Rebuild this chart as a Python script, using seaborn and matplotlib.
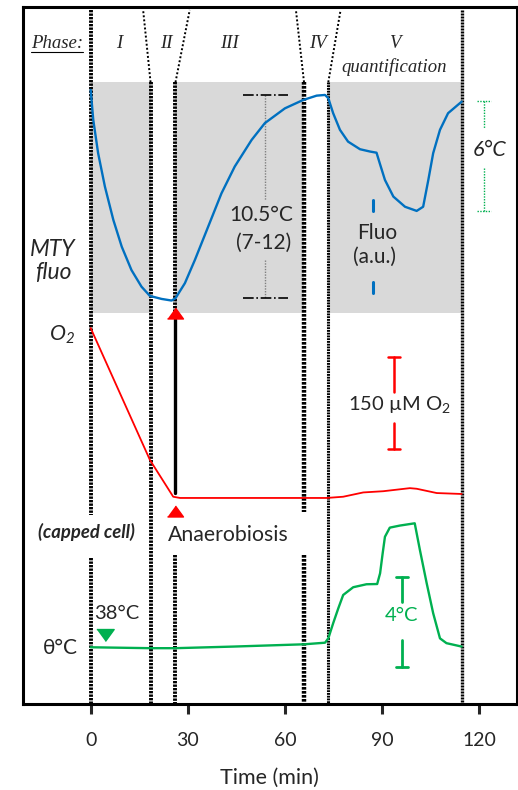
import numpy as np
import pandas as pd
import matplotlib
matplotlib.use("Agg")
import matplotlib.pyplot as plt
import seaborn as sns

# recordings (time in min)
fluo_t = [0, 0.8, 2.3, 4.4, 7.0, 9.6, 12.6, 15.7, 18.3, 21.9, 25.0, 26.2, 29.1, 32.2, 36.3,
          40.4, 44.5, 49.7, 53.8, 60.0, 65.6, 69.8, 72.4, 73.4, 74.9, 77.0, 79.5, 83.2, 86.3,
          88.3, 89.3, 90.9, 93.5, 97.1, 100.7, 102.7, 104.3, 105.8, 107.9, 110.4, 114.6]
fluo = [96.7, 83.7, 69.3, 54.8, 40.4, 28.8, 18.7, 11.5, 7.5, 6.2, 5.5, 6.5, 13.0, 23.1, 37.5,
        51.9, 63.5, 75.0, 82.3, 88.7, 92.3, 94.2, 94.5, 93.1, 86.6, 79.4, 74.3, 71.0, 70.0,
        69.5, 64.9, 57.7, 50.5, 46.1, 44.3, 46.1, 57.7, 69.3, 79.4, 86.6, 91.6]  # a.u.

o2_t = [0, 18.3, 25.5, 27.6, 45.0, 64.6, 72.9, 78.0, 84.2, 90.4, 98.6, 100.7, 106.9, 114.6]
o2 = [277, 62, 2, 0, 0, 0, 0, 2, 9, 11, 16, 15, 8, 6.5]  # uM

temp_t = [0, 18.3, 26.2, 44.0, 65.9, 72.4, 73.4, 74.9, 76.5, 78.0, 81.1, 85.2, 88.5, 89.4,
          90.2, 90.9, 92.4, 95.5, 100.1, 101.7, 103.8, 105.8, 107.9, 109.9, 114.6]
temp = [38.0, 37.96, 37.96, 38.03, 38.13, 38.2, 38.39, 39.05, 39.71, 40.29, 40.63, 40.76,
        40.77, 41.24, 42.12, 42.84, 43.24, 43.33, 43.43, 42.26, 40.8, 39.49, 38.39, 38.18, 38.03]  # degC

phase_edges = [0, 18.5, 26.2, 65.9, 73.4, 114.6]
phase_names = ["I", "II", "III", "IV", "V"]
anaerobiosis_t = 26.2
xticks = [0, 30, 60, 90, 120]

BLUE = "#0070C0"
RED = "#FF0000"
GREEN = "#00B050"
GREY = "#D9D9D9"

# vertical layout of the three stacked traces
def y_fluo(v):
    return 390.7 + 2.31 * np.asarray(v, dtype=float)

def y_o2(v):
    return 206.0 + 0.6133 * np.asarray(v, dtype=float)

def y_temp(v):
    return 56.7 + 22.83 * (np.asarray(v, dtype=float) - 38)

sns.set_style("white")
plt.rcParams['font.family'] = ['Lato', 'DejaVu Sans']
plt.rcParams['mathtext.fontset'] = 'custom'
plt.rcParams['mathtext.rm'] = 'Lato'
plt.rcParams['mathtext.it'] = 'Lato:italic'

fig = plt.figure(figsize=(5.18, 7.90), dpi=100)
ax = fig.add_axes([0.0438, 0.1089, 0.9537, 0.8827])
ax.set_xlim(-21.0, 131.6)
ax.set_ylim(0, 697.3)

top_box, bot_box = 621.7, 390.7

# grey boxes for phases I, III, V
for i in (0, 2, 4):
    ax.fill_between([phase_edges[i], phase_edges[i + 1]], bot_box, top_box, color=GREY, lw=0, zorder=0)

dots = (0, (0.6, 0.3))
vlw = 2.8
# vertical phase limits
ax.plot([0, 0], [694, 189], color="black", lw=vlw, ls=dots, zorder=2)
ax.plot([0, 0], [146, 0], color="black", lw=vlw, ls=dots, zorder=2)
ax.plot([phase_edges[1]] * 2, [top_box, 0], color="black", lw=vlw, ls=dots, zorder=2)
ax.plot([phase_edges[2]] * 2, [top_box, bot_box], color="black", lw=vlw, ls=dots, zorder=2)
ax.plot([phase_edges[2]] * 2, [149, 0], color="black", lw=vlw, ls=dots, zorder=2)
ax.plot([phase_edges[3]] * 2, [top_box, 192], color="black", lw=3.2, ls=dots, zorder=2)
ax.plot([phase_edges[3]] * 2, [149, 0], color="black", lw=3.2, ls=dots, zorder=2)
ax.plot([phase_edges[4]] * 2, [top_box, 0], color="black", lw=2.2, ls=dots, zorder=2)
ax.plot([phase_edges[5]] * 2, [694, 0], color="black", lw=2.4, ls=dots, zorder=2)
# fanned lines up to the phase labels
for x0, x1 in [(phase_edges[1], 16.2), (phase_edges[2], 30.6), (phase_edges[3], 63.4), (phase_edges[4], 77.2)]:
    ax.plot([x0, x1], [top_box, 694], color="black", lw=1.4, ls=(0, (1, 1.1)), zorder=2)

# traces
df_f = pd.DataFrame({"t": fluo_t, "y": y_fluo(fluo)})
df_o = pd.DataFrame({"t": o2_t, "y": y_o2(o2)})
df_T = pd.DataFrame({"t": temp_t, "y": y_temp(temp)})
sns.lineplot(data=df_f, x="t", y="y", ax=ax, color=BLUE, lw=1.7, zorder=3)
sns.lineplot(data=df_o, x="t", y="y", ax=ax, color=RED, lw=1.3, zorder=3)
sns.lineplot(data=df_T, x="t", y="y", ax=ax, color=GREEN, lw=1.7, zorder=3)

# anaerobiosis marker
tri_up = [(-8, -5.5), (8, -5.5), (0, 5.5)]
tri_dn = [(-8, 5.5), (8, 5.5), (0, -5.5)]
ax.plot([anaerobiosis_t] * 2, [385, 211], color="black", lw=2.4, zorder=3)
ax.plot(anaerobiosis_t, 390.5, marker=tri_up, ms=11.5, color=RED, zorder=4)
ax.plot(anaerobiosis_t, 193.2, marker=tri_up, ms=11.5, color=RED, zorder=4)
ax.text(23.9, 169, "Anaerobiosis", fontsize=15.3, ha="left", va="center")

# phase header
serif = dict(family="Liberation Serif", style="italic", fontsize=13.5)
ax.text(-10.5, 660.7, "Phase:", ha="center", va="center", **serif)
ax.plot([-18.3, -2.5], [652.3, 652.3], color="black", lw=0.8)
for name, xp in zip(phase_names, [8.8, 23.4, 42.8, 70.1, 93.8]):
    ax.text(xp, 660.7, name, ha="center", va="center", **serif)
ax.text(93.8, 637.3, "quantification", ha="center", va="center", **serif)

# left-hand labels
ax.text(-11.6, 443, "MTY\nfluo", fontsize=16.5, style="italic", ha="center", va="center", linespacing=1.1)
ax.text(-8.9, 369, r"$\mathregular{O_2}$", fontsize=15.5, style="italic", ha="center", va="center")
ax.text(-1.3, 172.3, "(capped cell)", fontsize=13.3, style="italic", weight="bold", ha="center", va="center")
ax.text(-9.5, 56.3, "θ°C", fontsize=15, ha="center", va="center")

# 10.5 degC bar on the fluorescence trace
ax.plot([54.0, 54.0], [609, 504], color="#808080", lw=1.0, ls=(0, (1, 1)))
ax.plot([54.0, 54.0], [444, 406.3], color="#808080", lw=1.0, ls=(0, (1, 1)))
for yy in (609, 406.3):
    ax.plot([47.1, 61.0], [yy, yy], color="black", lw=1.2, ls="-.")
ax.text(52.8, 489, "10.5°C", fontsize=15, ha="center", va="center")
ax.text(53.3, 460.7, "(7-12)", fontsize=15, ha="center", va="center")

# Fluo (a.u.) bar
ax.plot([87.3, 87.3], [504, 493], color=BLUE, lw=2.2)
ax.plot([87.3, 87.3], [422.3, 411.3], color=BLUE, lw=2.2)
ax.text(88.6, 470.7, "Fluo", fontsize=15, ha="center", va="center")
ax.text(87.8, 447.3, "(a.u.)", fontsize=15, ha="center", va="center")

# 6 degC bar
gdots = (0, (1, 1))
ax.plot([121.5, 121.5], [603, 575.7], color=GREEN, lw=1.0, ls=gdots)
ax.plot([121.5, 121.5], [535.7, 493], color=GREEN, lw=1.0, ls=gdots)
for yy in (603, 493):
    ax.plot([119.2, 123.8], [yy, yy], color=GREEN, lw=1.0, ls=gdots)
ax.text(123.1, 554, "6°C", fontsize=15.5, style="italic", ha="center", va="center")

# 150 uM O2 bar
ax.plot([93.7, 93.7], [346.7, 312.3], color=RED, lw=1.8)
ax.plot([93.7, 93.7], [280.7, 254.7], color=RED, lw=1.8)
for yy in (346.7, 254.7):
    ax.plot([91.9, 95.5], [yy, yy], color=RED, lw=1.8)
ax.text(95.5, 299, r"150 µM O$\mathregular{_2}$", fontsize=14.5, ha="center", va="center")

# temperature annotations
ax.plot(4.5, 68.5, marker=tri_dn, ms=12.5, color=GREEN, zorder=4)
ax.text(8.0, 90, "38°C", fontsize=14.5, ha="center", va="center")
ax.plot([96.2, 96.2], [127.3, 102.3], color=GREEN, lw=2.0)
ax.plot([96.2, 96.2], [64, 36.7], color=GREEN, lw=2.0)
for yy in (127.3, 36.7):
    ax.plot([94.4, 98.0], [yy, yy], color=GREEN, lw=2.0)
ax.text(96.0, 88, "4°C", fontsize=14.5, color=GREEN, ha="center", va="center")

# axes frame
for s in ax.spines.values():
    s.set_visible(True)
    s.set_color("black")
    s.set_linewidth(2.2)
ax.set_xticks(xticks)
ax.set_yticks([])
ax.tick_params(axis="x", direction="out", length=7, width=2.2, pad=13, labelsize=14, bottom=True)
ax.set_xlabel("Time (min)", fontsize=15.5, labelpad=14)
ax.set_ylabel("")

fig.savefig("out.png", dpi=100)
